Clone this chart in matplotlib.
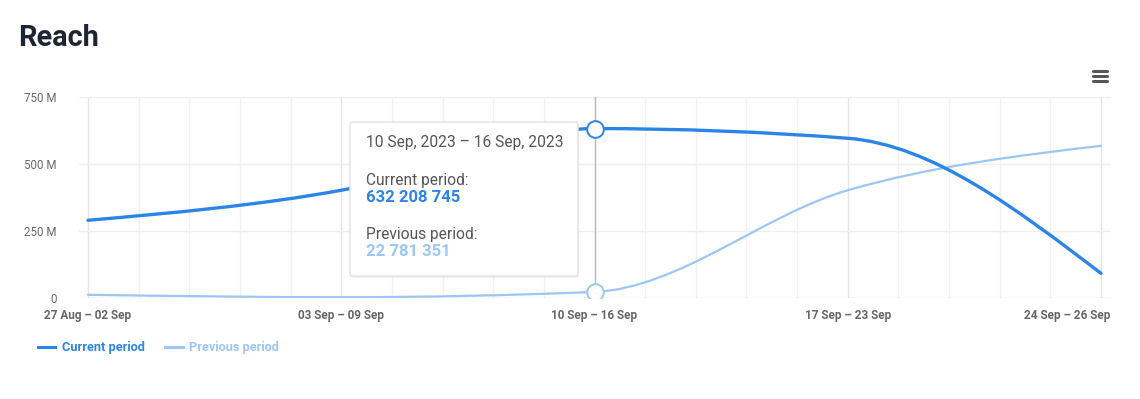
import numpy as np
import matplotlib
matplotlib.use('Agg')
import matplotlib.pyplot as plt
from matplotlib.path import Path
from matplotlib.patches import PathPatch, FancyBboxPatch
from matplotlib.lines import Line2D
from matplotlib.transforms import ScaledTranslation

plt.rcParams['font.family'] = ['Roboto', 'DejaVu Sans']

# data (millions)
periods = ['27 Aug – 02 Sep', '03 Sep – 09 Sep', '10 Sep – 16 Sep',
           '17 Sep – 23 Sep', '24 Sep – 26 Sep']
current = [290, 402, 632.208745, 596, 92]
previous = [12, 3, 22.781351, 402, 568]
hover_idx = 2

C_CUR = '#2b85e7'
C_PREV = '#9cc6f3'
GRID = '#eeeeee'
TXT = '#666666'


def monotone_path(x, y):
    """d3 curveMonotoneX as cubic bezier path"""
    x = np.asarray(x, float)
    y = np.asarray(y, float)
    n = len(x)
    h = np.diff(x)
    s = np.diff(y) / h
    t = np.zeros(n)
    for i in range(1, n - 1):
        p = (s[i - 1] * h[i] + s[i] * h[i - 1]) / (h[i - 1] + h[i])
        t[i] = (np.sign(s[i - 1]) + np.sign(s[i])) * min(abs(s[i - 1]), abs(s[i]), 0.5 * abs(p))
    t[0] = (3 * s[0] - t[1]) / 2
    t[-1] = (3 * s[-1] - t[-2]) / 2
    verts = [(x[0], y[0])]
    codes = [Path.MOVETO]
    for i in range(n - 1):
        dx = h[i] / 3
        verts += [(x[i] + dx, y[i] + dx * t[i]),
                  (x[i + 1] - dx, y[i + 1] - dx * t[i + 1]),
                  (x[i + 1], y[i + 1])]
        codes += [Path.CURVE4] * 3
    return Path(verts, codes)


W, H = 1140, 399
fig = plt.figure(figsize=(W / 100, H / 100), dpi=100, facecolor='white')
x0, x1, y0, y1 = 79, 1111, 97, 298
ax = fig.add_axes([x0 / W, 1 - y1 / H, (x1 - x0) / W, (y1 - y0) / H])
xs = np.arange(len(periods))
ax.set_xlim(-(88 - x0) / 253.25, 4 + (x1 - 1101) / 253.25)
ax.set_ylim(0, 750)
for sp in ax.spines.values():
    sp.set_visible(False)

# grid
for v in np.arange(0, 4.01, 0.2):
    major = abs(v - round(v)) < 1e-6
    ax.axvline(v, color='#e4e4e4' if major else '#f1f1f1', lw=1, zorder=0)
for v in [250, 500, 750]:
    ax.axhline(v, color=GRID, lw=1, zorder=0)
ax.axhline(0, color='#e0e0e0', lw=1, zorder=0)

# crosshair
ax.axvline(xs[hover_idx], color='#b4bccd', lw=1, zorder=1)

ax.add_patch(PathPatch(monotone_path(xs, previous), fill=False, ec=C_PREV,
                       lw=1.6, capstyle='round', zorder=2))
ax.add_patch(PathPatch(monotone_path(xs, current), fill=False, ec=C_CUR,
                       lw=2.4, capstyle='round', zorder=3))
ax.plot([xs[hover_idx]], [current[hover_idx]], 'o', ms=12, mfc='white',
        mec=C_CUR, mew=1.4, zorder=5)
ax.plot([xs[hover_idx]], [previous[hover_idx]], 'o', ms=12, mfc='white',
        mec=C_PREV, mew=1.4, zorder=5)

ax.set_yticks([0, 250, 500, 750])
ax.set_yticklabels(['0', '250 M', '500 M', '750 M'])
ax.set_xticks(xs)
ax.set_xticklabels(periods, fontweight='bold')
ax.tick_params(axis='y', length=0, pad=16, labelsize=8.3, labelcolor=TXT)
ax.tick_params(axis='x', length=0, pad=8, labelsize=8.5, labelcolor=TXT)
last = ax.get_xticklabels()[-1]
last.set_ha('right')
last.set_transform(last.get_transform() + ScaledTranslation(9 / 100, 0, fig.dpi_scale_trans))

# title
fig.text(18 / W, 1 - 38 / H, 'Reach', fontsize=20.8, fontweight='bold',
         color='#1e2433', va='center', ha='left')

# hamburger menu
for yy in [71, 76, 81]:
    fig.add_artist(Line2D([1093 / W, 1107 / W], [1 - yy / H, 1 - yy / H],
                          color='#555555', lw=2.2, solid_capstyle='round'))

# tooltip
tx0, ty0, tx1, ty1 = 350, 122, 578, 276
shadow = FancyBboxPatch(((tx0 + 1) / W, 1 - (ty1 + 2) / H), (tx1 - tx0) / W, (ty1 - ty0) / H,
                        boxstyle='round,pad=0,rounding_size=0.004', transform=fig.transFigure,
                        fc='#000000', alpha=0.06, ec='none', zorder=5)
box = FancyBboxPatch((tx0 / W, 1 - ty1 / H), (tx1 - tx0) / W, (ty1 - ty0) / H,
                     boxstyle='round,pad=0,rounding_size=0.004', transform=fig.transFigure,
                     fc='white', ec='#e3e3e3', lw=1, zorder=6)
fig.add_artist(shadow)
fig.add_artist(box)
tt = dict(ha='left', va='center', zorder=7)
fig.text(366 / W, 1 - 143 / H, '10 Sep, 2023 – 16 Sep, 2023', color='#555555',
         fontsize=11.2, **tt)
fig.text(366 / W, 1 - 180 / H, 'Current period:', color='#555555', fontsize=11.2, **tt)
fig.text(366 / W, 1 - 198 / H, f'{round(current[hover_idx] * 1e6):,}'.replace(',', ' '),
         color=C_CUR, fontweight='bold', fontsize=12, **tt)
fig.text(366 / W, 1 - 235 / H, 'Previous period:', color='#555555', fontsize=11.2, **tt)
fig.text(366 / W, 1 - 252 / H, f'{round(previous[hover_idx] * 1e6):,}'.replace(',', ' '),
         color=C_PREV, fontweight='bold', fontsize=12, **tt)

# legend
handles = [Line2D([], [], color=C_CUR, lw=2.2), Line2D([], [], color=C_PREV, lw=2.2)]
leg = fig.legend(handles, ['Current period', 'Previous period'], loc='center left',
                 bbox_to_anchor=(26 / W, 1 - 348 / H), ncol=2, frameon=False,
                 handlelength=1.4, handletextpad=0.5, columnspacing=1.6,
                 prop=dict(size=9.2, weight='bold'))
for txt, c in zip(leg.get_texts(), [C_CUR, C_PREV]):
    txt.set_color(c)

fig.savefig('out.png', dpi=100, facecolor='white')
